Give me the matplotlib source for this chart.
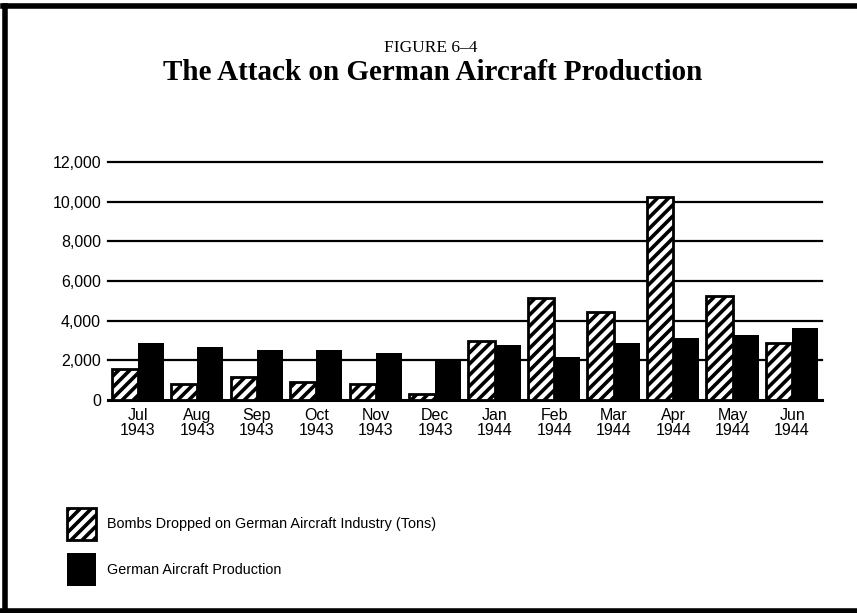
import numpy as np
import matplotlib
matplotlib.use('Agg')
import matplotlib.pyplot as plt
from matplotlib.lines import Line2D

months = ['Jul\n1943', 'Aug\n1943', 'Sep\n1943', 'Oct\n1943', 'Nov\n1943', 'Dec\n1943',
          'Jan\n1944', 'Feb\n1944', 'Mar\n1944', 'Apr\n1944', 'May\n1944', 'Jun\n1944']
bombs = [1550, 800, 1180, 920, 790, 300, 2980, 5170, 4460, 10220, 5250, 2860]
production = [2860, 2690, 2525, 2525, 2360, 2055, 2750, 2190, 2860, 3115, 3265, 3620]
yticks = [0, 2000, 4000, 6000, 8000, 10000, 12000]

plt.rcParams['font.family'] = ['Liberation Sans', 'DejaVu Sans']
plt.rcParams['hatch.linewidth'] = 2.6

fig = plt.figure(figsize=(8.57, 6.13), dpi=100)
ax = fig.add_axes([0.126, 0.3475, 0.833, 0.388])

x = np.arange(len(months))
w = 0.44
ax.bar(x - w / 2, bombs, w, facecolor='white', edgecolor='black', hatch='///',
       linewidth=2, zorder=2, label='Bombs Dropped on German Aircraft Industry (Tons)')
ax.bar(x + w / 2, production, w, color='black', linewidth=0, zorder=2,
       label='German Aircraft Production')

for y in yticks:
    ax.axhline(y, color='black', lw=1.6 if y else 2.2, zorder=1, clip_on=False)

ax.set_xlim(-0.5, len(months) - 0.5)
ax.set_ylim(0, 12000)
ax.set_yticks(yticks)
ax.set_yticklabels([f'{v:,}' for v in yticks], fontsize=11.5)
ax.set_xticks(x)
ax.set_xticklabels(months, fontsize=11.5, linespacing=1.0)
ax.tick_params(axis='y', length=0, pad=5)
ax.tick_params(axis='x', length=0, pad=6)
for s in ax.spines.values():
    s.set_visible(False)

fig.text(0.503, 1 - 48 / 613, 'FIGURE 6\u20134', ha='center', va='center',
         family='Liberation Serif', fontsize=12.5)
fig.text(0.505, 1 - 73 / 613, 'The Attack on German Aircraft Production', ha='center',
         va='center', family='Liberation Serif', fontweight='bold', fontsize=21)

fig.legend(loc='upper left', bbox_to_anchor=(67 / 857, 1 - 508 / 613), frameon=False,
           fontsize=10.4, handlelength=2.0, handleheight=3.07, handletextpad=0.76,
           labelspacing=0.9, borderaxespad=0, borderpad=0)

# page frame: top, left and bottom rules
for xs, ys in [([0.004, 1.0], [0.9895, 0.9895]), ([0.006, 0.006], [0.0, 0.9895]),
               ([0.0, 1.0], [0.003, 0.003])]:
    fig.add_artist(Line2D(xs, ys, color='black', lw=4, transform=fig.transFigure))

fig.savefig('out.png', dpi=100)
